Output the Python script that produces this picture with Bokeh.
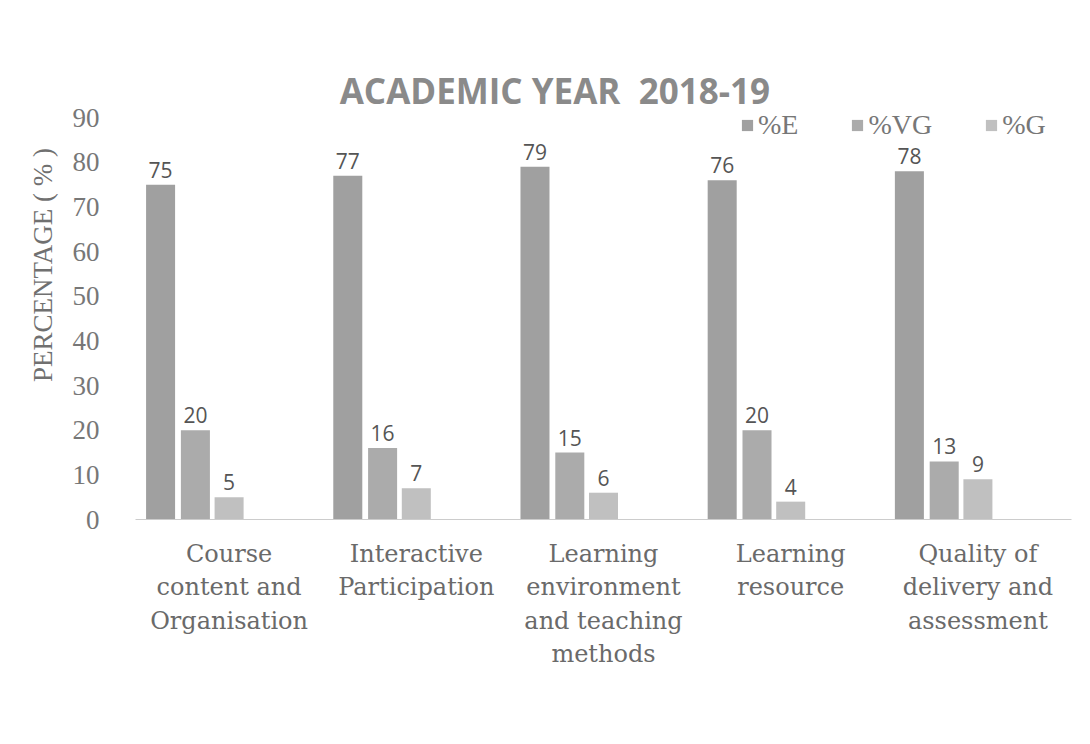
from bokeh.plotting import figure
from bokeh.models import ColumnDataSource, FixedTicker, Legend, LegendItem, Range1d, Label
from bokeh.transform import dodge
from bokeh.core.properties import value
from bokeh.embed import file_html
from bokeh.resources import INLINE

# ---- data ----
categories = ["Course content and Organisation", "Interactive Participation",
              "Learning environment and teaching methods", "Learning resource",
              "Quality of delivery and assessment"]
tick_labels = ["Course\ncontent and\nOrganisation", "Interactive\nParticipation",
               "Learning\nenvironment\nand teaching\nmethods", "Learning\nresource",
               "Quality of\ndelivery and\nassessment"]
pct_E = [75, 77, 79, 76, 78]
pct_VG = [20, 16, 15, 20, 13]
pct_G = [5, 7, 6, 4, 9]
series_names = ["%E", "%VG", "%G"]
y_ticks = [0, 10, 20, 30, 40, 50, 60, 70, 80, 90]
title_text = "ACADEMIC YEAR\u00a0 2018-19"
y_title = "PERCENTAGE ( % )"

xs = list(range(len(categories)))
src = ColumnDataSource(dict(
    x=xs, E=pct_E, VG=pct_VG, G=pct_G,
    E_t=[str(v) for v in pct_E], VG_t=[str(v) for v in pct_VG], G_t=[str(v) for v in pct_G],
))

p = figure(width=1090, height=744, output_backend="svg", toolbar_location=None,
           x_range=Range1d(-0.5, 4.5), y_range=Range1d(0, 114),
           min_border_left=135, min_border_right=19, min_border_top=10, min_border_bottom=225)
p.background_fill_color = "white"
p.border_fill_color = "white"
p.outline_line_color = None
p.grid.visible = False

colors = ["#a0a0a0", "#ababab", "#c0c0c0"]
offsets = [-0.366, -0.18, 0.0]
fields = ["E", "VG", "G"]
renderers = []
for f, c, off in zip(fields, colors, offsets):
    r = p.vbar(x=dodge("x", off, range=p.x_range), top=f, width=0.155, source=src,
               fill_color=c, line_color=None)
    renderers.append(r)
    p.text(x=dodge("x", off, range=p.x_range), y=f, text=f + "_t", source=src,
           text_align="center", text_baseline="bottom", y_offset=-7,
           text_font=value("Open Sans"), text_font_size="21px", text_color="#555555")

# axes
p.yaxis.ticker = FixedTicker(ticks=y_ticks)
p.yaxis.axis_line_color = None
p.yaxis.major_tick_line_color = None
p.yaxis.minor_tick_line_color = None
p.yaxis.major_label_text_font = "Liberation Serif"
p.yaxis.major_label_text_font_size = "27px"
p.yaxis.major_label_text_color = "#777777"
p.yaxis.major_label_standoff = 30
p.yaxis.axis_label = y_title
p.yaxis.axis_label_text_font = "Liberation Serif"
p.yaxis.axis_label_text_font_size = "27px"
p.yaxis.axis_label_text_font_style = "normal"
p.yaxis.axis_label_text_color = "#707070"
p.yaxis.axis_label_standoff = 12

p.xaxis.ticker = FixedTicker(ticks=xs)
p.xaxis.major_label_overrides = {i: t for i, t in zip(xs, tick_labels)}
p.xaxis.axis_line_color = "#cccccc"
p.xaxis.major_tick_line_color = None
p.xaxis.minor_tick_line_color = None
p.xaxis.major_label_text_font = "DejaVu Serif"
p.xaxis.major_label_text_font_size = "24px"
p.xaxis.major_label_text_color = "#6a6a6a"
p.xaxis.major_label_standoff = 14

# title
p.add_layout(Label(x=1.74, y=96, text=title_text, text_align="center", text_baseline="middle",
                   text_font="Open Sans", text_font_style="bold", text_font_size="35px",
                   text_color="#8a8a8a"))

# legend
legend = Legend(items=[LegendItem(label=n, renderers=[r]) for n, r in zip(series_names, renderers)],
                orientation="horizontal", location=(605, 378),
                glyph_width=14, glyph_height=14, label_standoff=4, spacing=52, padding=0,
                label_text_font="Liberation Serif", label_text_font_size="28px",
                label_text_color="#777777", border_line_color=None, background_fill_alpha=0)
p.add_layout(legend, "center")

open("out.html", "w").write(file_html(p, INLINE))
